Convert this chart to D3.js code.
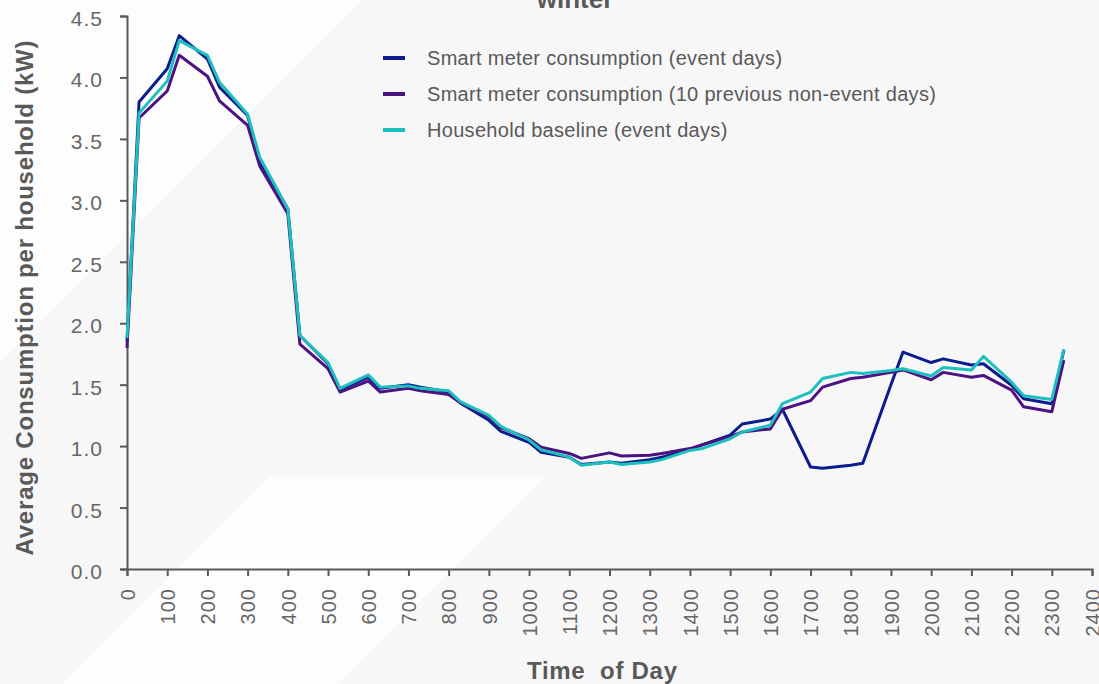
<!DOCTYPE html>
<html>
<head>
<meta charset="utf-8">
<script src="https://cdn.jsdelivr.net/npm/d3@7"></script>
<style>
  body { margin: 0; background: #f7f7f8; }
  svg { display: block; font-family: "Liberation Sans", Arial, sans-serif; }
  .axis path, .axis line { stroke: #595959; stroke-width: 2; }
  .axis text { fill: #666666; font-size: 20px; letter-spacing: 1px; }
  .axisTitle { fill: #595959; font-weight: bold; font-size: 24px; }
  .legendText { fill: #595959; font-size: 20px; letter-spacing: 0.3px; }
</style>
</head>
<body>
<div class="chart"></div>
<script>
// time of day (HHMM), half hourly
var times = [0, 30, 100, 130, 200, 230, 300, 330, 400, 430, 500, 530, 600, 630, 700, 730,
  800, 830, 900, 930, 1000, 1030, 1100, 1130, 1200, 1230, 1300, 1330, 1400, 1430, 1500, 1530,
  1600, 1630, 1700, 1730, 1800, 1830, 1900, 1930, 2000, 2030, 2100, 2130, 2200, 2230, 2300, 2330];

var eventDays = [1.85, 3.80, 4.07, 4.34, 4.15, 3.92, 3.69, 3.32, 2.93, 1.90, 1.67, 1.46, 1.56, 1.47, 1.50, 1.48,
  1.44, 1.35, 1.21, 1.12, 1.03, 0.95, 0.91, 0.85, 0.87, 0.86, 0.89, 0.91, 0.97, 1.01, 1.09, 1.18,
  1.22, 1.30, 0.83, 0.82, 0.845, 0.86, 1.50, 1.765, 1.68, 1.71, 1.66, 1.67, 1.495, 1.385, 1.345, 1.78];

var prevNonEvent = [1.80, 3.67, 3.89, 4.18, 4.01, 3.81, 3.61, 3.28, 2.89, 1.83, 1.63, 1.44, 1.53, 1.44, 1.47, 1.45,
  1.42, 1.35, 1.24, 1.15, 1.06, 0.99, 0.94, 0.90, 0.945, 0.92, 0.925, 0.94, 0.98, 1.01, 1.075, 1.115,
  1.14, 1.30, 1.37, 1.48, 1.55, 1.56, 1.60, 1.62, 1.54, 1.60, 1.56, 1.575, 1.455, 1.32, 1.28, 1.70];

var baseline = [1.88, 3.71, 3.97, 4.30, 4.18, 3.96, 3.70, 3.35, 2.93, 1.90, 1.68, 1.47, 1.58, 1.48, 1.49, 1.47,
  1.45, 1.36, 1.25, 1.16, 1.05, 0.97, 0.91, 0.845, 0.87, 0.85, 0.87, 0.89, 0.965, 0.98, 1.06, 1.115,
  1.17, 1.345, 1.44, 1.55, 1.60, 1.59, 1.615, 1.63, 1.57, 1.64, 1.62, 1.73, 1.52, 1.41, 1.38, 1.79];

var seriesNames = ["Smart meter consumption (event days)",
  "Smart meter consumption (10 previous non-event days)",
  "Household baseline (event days)"];
var seriesColors = ["#0b1c8c", "#4b1280", "#1cc0be"];

var xTicks = d3.range(0, 2401, 100);
var yTicks = [0, 0.5, 1, 1.5, 2, 2.5, 3, 3.5, 4, 4.5];

var svgWidth = 1099;
var svgHeight = 684;

var margin = {
  top: 16,
  right: 7,
  bottom: 115,
  left: 127
};

var width = svgWidth - margin.left - margin.right;
var height = svgHeight - margin.top - margin.bottom;

var svg = d3.select(".chart")
  .append("svg")
  .attr("width", svgWidth)
  .attr("height", svgHeight);

// background with pale diagonal shapes
svg.append("rect")
  .attr("width", svgWidth)
  .attr("height", svgHeight)
  .attr("fill", "#f7f7f8");

svg.append("polygon")
  .attr("points", "0,0 363,0 0,363")
  .attr("fill", "#fdfdfd");

svg.append("polygon")
  .attr("points", "270,477 545,477 338,684 63,684")
  .attr("fill", "#fdfdfd");

var chartGroup = svg.append("g")
  .attr("transform", `translate(${margin.left}, ${margin.top})`);

var xScale = d3.scaleLinear()
  .domain([0, 2400])
  .range([0, width]);

var yScale = d3.scaleLinear()
  .domain([0, 4.5])
  .range([height, 0]);

var bottomAxis = d3.axisBottom(xScale)
  .tickValues(xTicks)
  .tickFormat(d3.format("d"))
  .tickSize(7);

var leftAxis = d3.axisLeft(yScale)
  .tickValues(yTicks)
  .tickFormat(d3.format(".1f"))
  .tickSize(7)
  .tickPadding(17);

var xAxisG = chartGroup.append("g")
  .attr("class", "axis")
  .attr("transform", `translate(0, ${height})`)
  .call(bottomAxis);

xAxisG.selectAll("text")
  .attr("transform", "rotate(-90)")
  .attr("text-anchor", "end")
  .attr("x", -19)
  .attr("y", 0)
  .attr("dy", "0.36em");

var yAxisG = chartGroup.append("g")
  .attr("class", "axis")
  .call(leftAxis);

yAxisG.selectAll("text")
  .attr("dy", "0.45em")
  .style("font-size", "21px");

// lines
var allSeries = [eventDays, prevNonEvent, baseline];

var line = d3.line()
  .x((d, i) => xScale(times[i]))
  .y(d => yScale(d));

chartGroup.selectAll(".series")
  .data(allSeries)
  .enter()
  .append("path")
  .attr("class", "series")
  .attr("d", d => line(d))
  .attr("fill", "none")
  .attr("stroke", (d, i) => seriesColors[i])
  .attr("stroke-width", 3)
  .attr("stroke-linejoin", "round");

// legend
var legend = svg.append("g")
  .attr("transform", "translate(383, 58)");

var legendItems = legend.selectAll("g")
  .data(seriesNames)
  .enter()
  .append("g")
  .attr("transform", (d, i) => `translate(0, ${i * 36})`);

legendItems.append("line")
  .attr("x1", 0)
  .attr("x2", 22)
  .attr("stroke", (d, i) => seriesColors[i])
  .attr("stroke-width", 4);

legendItems.append("text")
  .attr("class", "legendText")
  .attr("x", 44)
  .attr("dy", "0.35em")
  .text(d => d);

// titles
svg.append("text")
  .attr("class", "axisTitle")
  .attr("x", 575)
  .attr("y", 8)
  .attr("text-anchor", "middle")
  .style("font-size", "26px")
  .text("winter");

svg.append("text")
  .attr("class", "axisTitle")
  .attr("transform", "rotate(-90)")
  .attr("x", -298)
  .attr("y", 33)
  .attr("text-anchor", "middle")
  .attr("textLength", 515)
  .attr("lengthAdjust", "spacing")
  .text("Average Consumption per household (kW)");

svg.append("text")
  .attr("class", "axisTitle")
  .attr("x", 602)
  .attr("y", 679)
  .attr("text-anchor", "middle")
  .attr("textLength", 150)
  .attr("lengthAdjust", "spacing")
  .style("white-space", "pre")
  .text("Time  of Day");
</script>
</body>
</html>
